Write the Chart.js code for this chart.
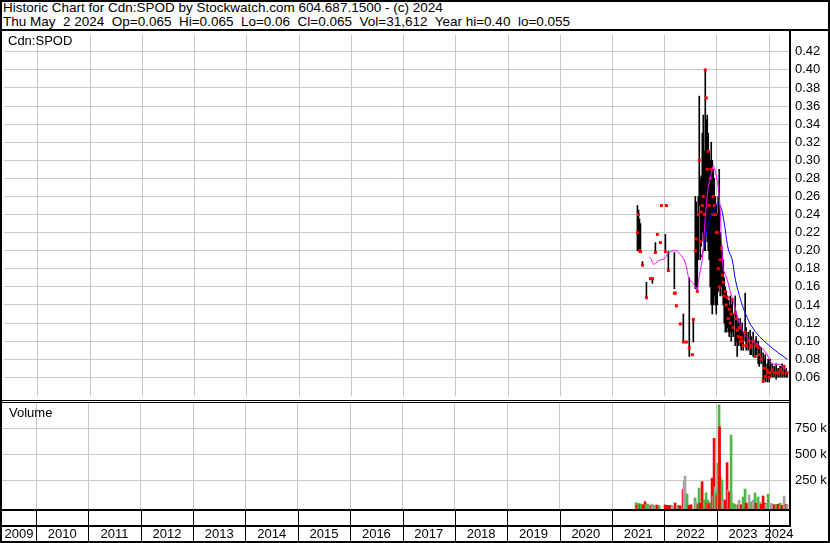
<!DOCTYPE html>
<html>
<head>
<meta charset="utf-8">
<script src="https://cdn.jsdelivr.net/npm/chart.js@4.4.1/dist/chart.umd.min.js"></script>
<style>
  body { margin: 0; background: #fff; }
  #page { position: relative; width: 830px; height: 543px; overflow: hidden; background: #fff;
          font-family: "Liberation Sans", Arial, sans-serif; color: #000; }
  .txt { position: absolute; font-size: 13.5px; white-space: pre; line-height: 14px; }
  .ln { position: absolute; background: #000; }
  canvas { position: absolute; left: 0; }
</style>
</head>
<body>
<div id="page">
  <div class="txt" style="left:3px; top:1px">Historic Chart for Cdn:SPOD by Stockwatch.com 604.687.1500 - (c) 2024</div>
  <div class="txt" style="left:3px; top:15px">Thu May  2 2024  Op=0.065  Hi=0.065  Lo=0.06  Cl=0.065  Vol=31,612  Year hi=0.40  lo=0.055</div>

  <canvas id="price" width="830" height="369" style="top:31px"></canvas>
  <canvas id="vol" width="830" height="140" style="top:403px"></canvas>

  <div class="txt" style="left:8px; top:34px; font-size:13px">Cdn:SPOD</div>
  <div class="txt" style="left:9px; top:406px; font-size:13px">Volume</div>

  <!-- frame -->
  <div class="ln" style="left:0; top:0; width:830px; height:2px"></div>
  <div class="ln" style="left:0; top:541px; width:830px; height:2px"></div>
  <div class="ln" style="left:0; top:0; width:2px; height:543px"></div>
  <div class="ln" style="left:828px; top:0; width:2px; height:543px"></div>
  <div class="ln" style="left:0; top:29px; width:830px; height:2px"></div>
  <div class="ln" style="left:0; top:400px; width:791px; height:1px"></div>
  <div class="ln" style="left:0; top:402px; width:791px; height:1px"></div>
  <div class="ln" style="left:0; top:509px; width:791px; height:2px"></div>
  <div class="ln" style="left:0; top:525px; width:791px; height:2px"></div>
  <div class="ln" style="left:789px; top:31px; width:2px; height:496px"></div>
</div>

<script>
// years on the time axis
const years = [2009, 2010, 2011, 2012, 2013, 2014, 2015, 2016, 2017, 2018, 2019, 2020, 2021, 2022, 2023, 2024];
const startDate = 2009.35;
const endDate = 2024.38;

// price ticks
const priceTicks = [0.06, 0.08, 0.10, 0.12, 0.14, 0.16, 0.18, 0.20, 0.22, 0.24, 0.26, 0.28, 0.30, 0.32, 0.34, 0.36, 0.38, 0.40, 0.42];
const volTicks = [250000, 500000, 750000];

// weekly bars (decimal year)
const barDates = [
  2021.478, 2021.498, 2021.517, 2021.536, 2021.574, 2021.650, 2021.727, 2021.765, 2021.822, 2021.860,
  2021.918, 2021.937, 2022.013, 2022.032, 2022.070, 2022.185, 2022.204, 2022.223, 2022.299, 2022.357,
  2022.414, 2022.471, 2022.529, 2022.548,
  2022.586, 2022.605, 2022.624, 2022.643, 2022.662, 2022.681, 2022.700, 2022.720, 2022.739, 2022.758,
  2022.777, 2022.796, 2022.815, 2022.834, 2022.853, 2022.872, 2022.891, 2022.911, 2022.930, 2022.949,
  2022.968, 2022.987, 2023.006, 2023.025, 2023.044, 2023.063,
  2023.083, 2023.102, 2023.121, 2023.140, 2023.159, 2023.178, 2023.197, 2023.216, 2023.236, 2023.255,
  2023.274, 2023.293, 2023.312, 2023.350, 2023.369, 2023.388, 2023.407, 2023.427, 2023.446, 2023.465,
  2023.484, 2023.503, 2023.541, 2023.560, 2023.599, 2023.637, 2023.656, 2023.694, 2023.732, 2023.751,
  2023.790, 2023.809, 2023.847, 2023.885, 2023.904, 2023.924, 2023.962, 2023.981, 2024.000, 2024.019,
  2024.057, 2024.096, 2024.134, 2024.172, 2024.210, 2024.248, 2024.287, 2024.325, 2024.344
];
const barHigh = [
  0.250, 0.245, 0.235, 0.230, 0.188, 0.165, 0.170, 0.170, 0.209, 0.218,
  0.209, 0.250, 0.218, 0.250, 0.199, 0.198, 0.154, 0.140, 0.119, 0.130,
  0.099, 0.170, 0.085, 0.124,
  0.260, 0.254, 0.240, 0.260, 0.371, 0.280, 0.283, 0.330, 0.350, 0.310,
  0.400, 0.345, 0.350, 0.330, 0.310, 0.300, 0.320, 0.300, 0.290, 0.280,
  0.260, 0.250, 0.240, 0.260, 0.290, 0.220,
  0.210, 0.200, 0.190, 0.170, 0.160, 0.155, 0.150, 0.145, 0.140, 0.150,
  0.140, 0.145, 0.130, 0.150, 0.130, 0.120, 0.125, 0.120, 0.125, 0.115,
  0.120, 0.110, 0.153, 0.115, 0.110, 0.112, 0.105, 0.110, 0.100, 0.105,
  0.100, 0.095, 0.093, 0.087, 0.080, 0.085, 0.075, 0.080, 0.072, 0.080,
  0.075, 0.072, 0.075, 0.070, 0.072, 0.075, 0.072, 0.070, 0.065
];
const barLow = [
  0.200, 0.200, 0.199, 0.199, 0.184, 0.148, 0.169, 0.164, 0.198, 0.218,
  0.209, 0.250, 0.199, 0.250, 0.178, 0.158, 0.153, 0.139, 0.119, 0.099,
  0.099, 0.083, 0.085, 0.099,
  0.158, 0.160, 0.155, 0.190, 0.250, 0.190, 0.205, 0.220, 0.210, 0.200,
  0.200, 0.220, 0.210, 0.200, 0.190, 0.160, 0.140, 0.130, 0.140, 0.150,
  0.140, 0.130, 0.140, 0.155, 0.160, 0.150,
  0.160, 0.150, 0.140, 0.120, 0.110, 0.110, 0.115, 0.110, 0.105, 0.110,
  0.100, 0.110, 0.105, 0.095, 0.100, 0.083, 0.095, 0.100, 0.095, 0.090,
  0.095, 0.090, 0.100, 0.090, 0.090, 0.085, 0.085, 0.083, 0.083, 0.085,
  0.075, 0.072, 0.075, 0.054, 0.060, 0.055, 0.055, 0.060, 0.055, 0.060,
  0.060, 0.060, 0.058, 0.060, 0.060, 0.060, 0.060, 0.060, 0.060
];
const barClose = [
  0.220, 0.240, 0.200, 0.199, 0.184, 0.148, 0.169, 0.169, 0.198, 0.218,
  0.209, 0.250, 0.199, 0.250, 0.178, 0.153, 0.153, 0.139, 0.119, 0.099,
  0.099, 0.093, 0.085, 0.124,
  0.200, 0.213, 0.155, 0.240, 0.300, 0.210, 0.243, 0.250, 0.260, 0.240,
  0.400, 0.369, 0.290, 0.310, 0.250, 0.280, 0.290, 0.240, 0.260, 0.250,
  0.240, 0.220, 0.220, 0.180, 0.160, 0.190,
  0.203, 0.173, 0.165, 0.150, 0.155, 0.140, 0.148, 0.125, 0.135, 0.120,
  0.130, 0.146, 0.115, 0.131, 0.125, 0.112, 0.105, 0.115, 0.100, 0.104,
  0.100, 0.095, 0.110, 0.095, 0.100, 0.093, 0.095, 0.100, 0.083, 0.095,
  0.093, 0.085, 0.080, 0.056, 0.070, 0.061, 0.068, 0.065, 0.060, 0.065,
  0.068, 0.065, 0.065, 0.065, 0.068, 0.065, 0.072, 0.065, 0.065
];

// moving averages
const maFastDates = [
  2021.708, 2021.746, 2021.784, 2021.822, 2021.879, 2021.937, 2021.994, 2022.051, 2022.108, 2022.166,
  2022.223, 2022.280, 2022.338, 2022.395, 2022.433, 2022.471, 2022.529, 2022.586, 2022.624, 2022.643,
  2022.681, 2022.720, 2022.758, 2022.777, 2022.834, 2022.891, 2022.930, 2022.968, 2023.025, 2023.063,
  2023.083, 2023.102, 2023.121, 2023.197, 2023.255, 2023.350, 2023.407, 2023.503, 2023.599, 2023.771,
  2023.885, 2023.981, 2024.057, 2024.210, 2024.325
];
const maFastValues = [
  0.193, 0.190, 0.185, 0.186, 0.189, 0.190, 0.191, 0.196, 0.199, 0.200,
  0.200, 0.197, 0.193, 0.187, 0.177, 0.168, 0.165, 0.160, 0.156, 0.165,
  0.178, 0.190, 0.220, 0.237, 0.270, 0.285, 0.294, 0.288, 0.270, 0.245,
  0.215, 0.195, 0.180, 0.168, 0.155, 0.137, 0.124, 0.110, 0.102, 0.097,
  0.091, 0.083, 0.075, 0.074, 0.068
];
const maSlowDates = [
  2022.700, 2022.739, 2022.777, 2022.834, 2022.911, 2023.006, 2023.044, 2023.102, 2023.159, 2023.216,
  2023.293, 2023.350, 2023.407, 2023.503, 2023.579, 2023.637, 2023.771, 2023.962, 2024.153, 2024.344
];
const maSlowValues = [
  0.193, 0.200, 0.212, 0.230, 0.241, 0.252, 0.252, 0.243, 0.223, 0.202,
  0.190, 0.169, 0.155, 0.137, 0.126, 0.119, 0.108, 0.097, 0.088, 0.080
];

// volume, u = up, d = down, f = unchanged
const volDates = [
  2021.459, 2021.478, 2021.498, 2021.517, 2021.536, 2021.555, 2021.593, 2021.631, 2021.650, 2021.688,
  2021.727, 2021.746, 2021.765, 2021.803, 2021.822, 2021.860, 2021.899, 2022.013, 2022.032, 2022.070,
  2022.108, 2022.147, 2022.204, 2022.261, 2022.299, 2022.357, 2022.376, 2022.395, 2022.433, 2022.471,
  2022.510, 2022.586, 2022.605, 2022.643, 2022.662, 2022.681, 2022.720, 2022.758, 2022.796, 2022.815,
  2022.834, 2022.853, 2022.891, 2022.911, 2022.930, 2022.949, 2022.968, 2022.987, 2023.006, 2023.025,
  2023.044, 2023.054, 2023.063, 2023.102, 2023.121, 2023.159, 2023.197, 2023.216, 2023.236, 2023.274,
  2023.312, 2023.350, 2023.407, 2023.427, 2023.465, 2023.503, 2023.541, 2023.560, 2023.599, 2023.618,
  2023.656, 2023.694, 2023.732, 2023.751, 2023.790, 2023.828, 2023.847, 2023.885, 2023.924, 2023.943,
  2023.981, 2024.019, 2024.057, 2024.096, 2024.134, 2024.172, 2024.210, 2024.248, 2024.287, 2024.325,
  2024.344
];
const volValues = [
  35000, 12000, 30000, 25000, 15000, 22000, 15000, 44000, 15000, 22000,
  10000, 8000, 20000, 10000, 12000, 12000, 8000, 13000, 10000, 8000,
  10000, 6000, 32000, 10000, 6000, 160000, 250000, 291000, 118000, 10000,
  15000, 80000, 40000, 20000, 176000, 30000, 237000, 60000, 130000, 30000,
  60000, 25000, 40000, 272000, 100000, 654000, 186000, 128000, 100000, 413000,
  975000, 765000, 285000, 253000, 60000, 60000, 420000, 157000, 138000, 685000,
  30000, 20000, 12000, 60000, 15000, 89000, 166000, 30000, 25000, 110000,
  40000, 60000, 128000, 30000, 89000, 40000, 20000, 99000, 30000, 20000,
  118000, 30000, 25000, 15000, 20000, 20000, 30000, 10000, 99000, 20000,
  15000
];
const volTrend = [
  'u', 'd', 'u', 'u', 'd', 'u', 'd', 'd', 'u', 'u',
  'f', 'd', 'f', 'u', 'f', 'd', 'u', 'd', 'd', 'd',
  'd', 'f', 'd', 'u', 'd', 'd', 'f', 'f', 'u', 'd',
  'd', 'u', 'f', 'd', 'u', 'd', 'd', 'u', 'u', 'd',
  'u', 'd', 'u', 'd', 'f', 'd', 'f', 'u', 'd', 'u',
  'u', 'd', 'd', 'u', 'f', 'd', 'd', 'f', 'd', 'u',
  'u', 'u', 'd', 'f', 'd', 'u', 'u', 'd', 'd', 'f',
  'u', 'f', 'u', 'd', 'u', 'f', 'd', 'd', 'd', 'f',
  'u', 'f', 'f', 'd', 'u', 'd', 'u', 'd', 'f', 'd',
  'f'
];

const trendColors = { u: '#4db848', d: '#ff0000', f: '#a6a6a6' };
const gridColor = '#c8c8c8';
const font = { family: '"Liberation Sans", Arial, sans-serif', size: 13 };

const noPad = (s) => { s.paddingTop = 0; s.paddingBottom = 0; s.paddingLeft = 0; s.paddingRight = 0; };

function xAxis() {
  return {
    type: 'linear', min: startDate, max: endDate, offset: false,
    grid: { color: gridColor, drawTicks: false, offset: false },
    border: { display: false },
    ticks: { display: false },
    afterBuildTicks: (s) => { s.ticks = years.slice(1).map(v => ({ value: v })); },
    afterFit: (s) => { s.height = 0; noPad(s); }
  };
}

// price panel
new Chart(document.getElementById('price'), {
  type: 'bar',
  data: {
    datasets: [
      { type: 'line', data: maFastDates.map((d, i) => ({ x: d, y: maFastValues[i] })),
        borderColor: '#ff00ff', borderWidth: 1, pointRadius: 0, tension: 0.3 },
      { type: 'line', data: maSlowDates.map((d, i) => ({ x: d, y: maSlowValues[i] })),
        borderColor: '#0000ff', borderWidth: 1, pointRadius: 0, tension: 0.3 },
      { type: 'scatter', data: barDates.map((d, i) => ({ x: d, y: barClose[i] })),
        pointStyle: 'rect', pointRadius: 2.1, backgroundColor: '#ff0000', borderWidth: 0 },
      { type: 'bar', data: barDates.map((d, i) => ({ x: d, y: [barLow[i], barHigh[i]] })),
        backgroundColor: '#000', barThickness: 1 }
    ]
  },
  options: {
    responsive: false, animation: false, events: [],
    layout: { padding: { left: 2, right: 0, top: 0, bottom: 0 } },
    plugins: { legend: { display: false }, tooltip: { enabled: false } },
    scales: {
      x: xAxis(),
      y: {
        position: 'right', min: 0.0393, max: 0.4386,
        grid: { color: gridColor, drawTicks: false },
        border: { display: false },
        afterBuildTicks: (s) => { s.ticks = priceTicks.map(v => ({ value: v })); },
        afterFit: (s) => { s.width = 41; noPad(s); },
        ticks: { padding: 6, color: '#000', font: font, callback: (v) => v.toFixed(2) }
      }
    }
  }
});

// year row under the volume panel, drawn from the x scale
const yearRow = {
  id: 'yearRow',
  afterDraw(chart) {
    const ctx = chart.ctx;
    const xs = chart.scales.x;
    const area = chart.chartArea;
    ctx.save();
    ctx.fillStyle = '#000';
    years.slice(1).forEach(y => {
      const px = Math.round(xs.getPixelForValue(y));
      ctx.fillRect(px, area.bottom, 1, 32);
    });
    ctx.font = '13px "Liberation Sans", Arial, sans-serif';
    ctx.textAlign = 'center';
    ctx.textBaseline = 'middle';
    years.forEach(y => {
      const a = Math.max(y, startDate), b = Math.min(y + 1, endDate);
      const cx = (xs.getPixelForValue(a) + xs.getPixelForValue(b)) / 2;
      ctx.fillText(String(y), cx, area.bottom + 25);
    });
    ctx.restore();
  }
};

// volume panel
new Chart(document.getElementById('vol'), {
  type: 'bar',
  data: {
    datasets: [
      { data: volDates.map((d, i) => ({ x: d, y: volValues[i] })),
        backgroundColor: volTrend.map(t => trendColors[t]),
        barThickness: 2, base: -25960 }
    ]
  },
  options: {
    responsive: false, animation: false, events: [],
    layout: { padding: { left: 2, right: 0, top: 0, bottom: 34 } },
    plugins: { legend: { display: false }, tooltip: { enabled: false } },
    scales: {
      x: xAxis(),
      y: {
        position: 'right', min: -25960, max: 993270,
        grid: { color: gridColor, drawTicks: false },
        border: { display: false },
        afterBuildTicks: (s) => { s.ticks = volTicks.map(v => ({ value: v })); },
        afterFit: (s) => { s.width = 41; noPad(s); },
        ticks: { padding: 6, color: '#000', font: font, callback: (v) => (v / 1000) + ' k' }
      }
    }
  },
  plugins: [yearRow]
});
</script>
</body>
</html>
